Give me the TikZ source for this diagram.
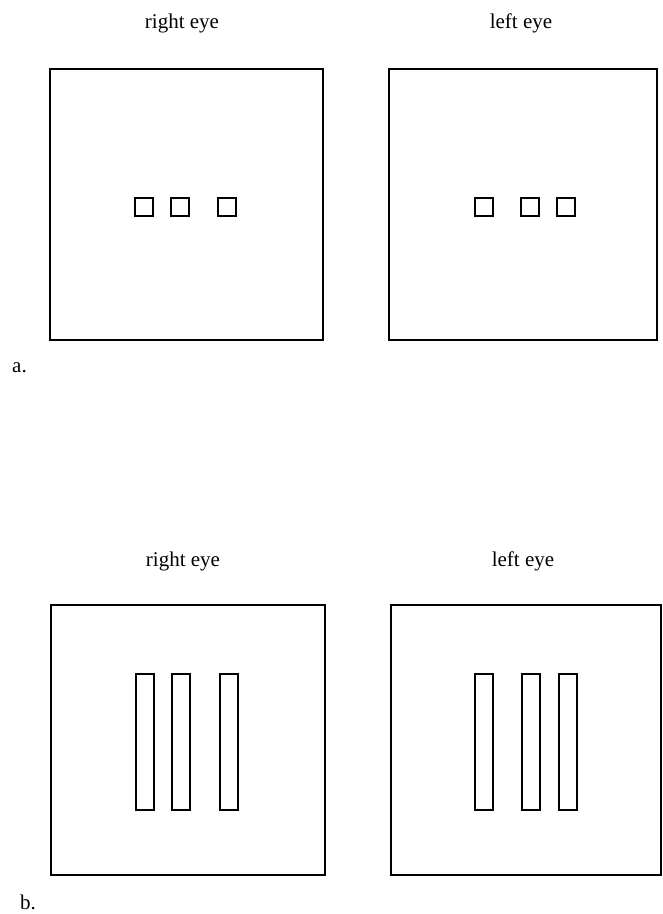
\documentclass[tikz,border=0pt]{standalone}
\usepackage{fontspec}
\setmainfont{Liberation Serif}
\begin{document}
\begin{tikzpicture}[x=1pt,y=-1pt,
  frame/.style={draw=black,line width=1.3pt},
  patch/.style={draw=black,line width=1.5pt},
  lbl/.style={anchor=base,inner sep=0pt,font=\fontsize{21}{24}\selectfont}]
\useasboundingbox (0,0) rectangle (663,914);
% panel a
\node[lbl] (ra) at (182,28) {right eye};
\node[lbl] (la) at (521,28) {left eye};
\draw[frame] (50,69) rectangle (323,340);
\draw[frame] (389,69) rectangle (657,340);
\foreach \x in {135,171,218} \draw[patch] (\x,198) rectangle ++(18,18);
\foreach \x in {475,521,557} \draw[patch] (\x,198) rectangle ++(18,18);
\node[lbl,anchor=base west] (a) at (12,372) {a.};
% panel b
\node[lbl] (rb) at (183,566) {right eye};
\node[lbl] (lb) at (523,566) {left eye};
\draw[frame] (51,605) rectangle (325,875);
\draw[frame] (391,605) rectangle (661,875);
\foreach \x in {136,172,220} \draw[patch] (\x,674) rectangle ++(18,136);
\foreach \x in {475,522,559} \draw[patch] (\x,674) rectangle ++(18,136);
\node[lbl,anchor=base west] (b) at (20,909) {b.};
\end{tikzpicture}
\end{document}
